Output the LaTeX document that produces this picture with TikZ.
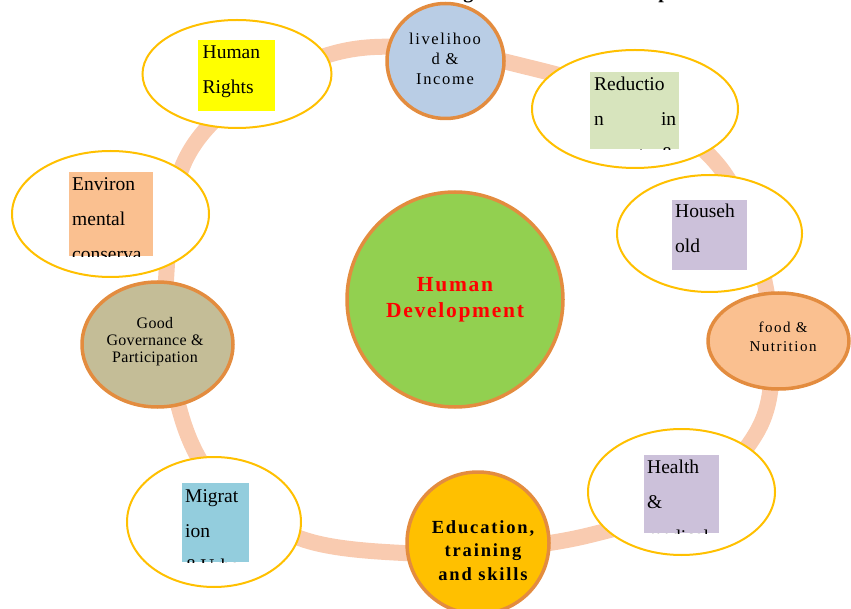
\documentclass[tikz,border=0pt]{standalone}
\usepackage{fontspec}
\setmainfont{Liberation Serif}
\newfontfamily\pixfont[LetterSpace=10]{Liberation Serif}
\newfontfamily\pixfontw[LetterSpace=8]{Liberation Serif}
\newfontfamily\pixfontn[LetterSpace=2]{Liberation Serif}
\usetikzlibrary{shapes.geometric}
\definecolor{ringc}{HTML}{F9CBB0}
\definecolor{orangeb}{HTML}{E38C3F}
\definecolor{yellowb}{HTML}{FFC000}
\definecolor{livef}{HTML}{B9CDE5}
\definecolor{foodf}{HTML}{FAC090}
\definecolor{eduf}{HTML}{FFC000}
\definecolor{govf}{HTML}{C4BD97}
\definecolor{centf}{HTML}{92D050}
\definecolor{redbox}{HTML}{D7E4BD}
\definecolor{purbox}{HTML}{CCC1DA}
\definecolor{migbox}{HTML}{93CDDD}
\definecolor{envbox}{HTML}{FAC090}
\definecolor{hrbox}{HTML}{FFFF00}
\tikzset{
  ybell/.style={ellipse, draw=yellowb, line width=2pt, fill=white, inner sep=0pt},
  obell/.style={ellipse, draw=orangeb, line width=3.5pt, inner sep=0pt},
  tbox/.style={rectangle, inner sep=0pt, draw=none},
  boxtext/.style={anchor=base west, inner sep=0pt, font=\fontsize{19.5}{35}\selectfont},
  pixtext/.style={anchor=base, inner sep=0pt},
  ringline/.style={draw=ringc, line width=16pt},
  titletext/.style={anchor=base west, inner sep=0pt, font=\bfseries\fontsize{20}{24}\selectfont}
}
\begin{document}
\begin{tikzpicture}[x=1pt,y=-1pt]
\useasboundingbox (0,0) rectangle (851,609);
\clip (0,0) rectangle (851,609);
% title (mostly cut off above the picture)
\node[titletext] (title) at (411,-1) {Strategies for Human Development};
% ring
\draw[ringline] plot[smooth cycle, tension=0.6] coordinates {
 (335,53) (420,48) (515,64) (630,100) (718,165) (758,255) (772,350) (758,430)
 (690,500) (590,535) (490,550) (403,553) (305,540) (232,498) (192,445)
 (170,365) (166,280) (183,165) (245,95)};
% central circle
\node[obell, fill=centf, minimum width=216pt, minimum height=215pt] (center) at (455,299.5) {};
\node[pixtext] (centertxt) at (455,292) {\pixfontw\bfseries\color{red}\fontsize{21.5}{26}\selectfont
  \begin{tabular}[t]{@{}c@{}}Human\\ Development\end{tabular}};
% livelihood
\node[obell, fill=livef, minimum width=117pt, minimum height=115pt] (live) at (445.5,61) {};
\node[pixtext] (livetxt) at (445,45) {\pixfont\fontsize{16.5}{20}\selectfont
  \begin{tabular}[t]{@{}c@{}}livelihoo\\ d \&\\ Income\end{tabular}};
% food
\node[obell, fill=foodf, minimum width=141pt, minimum height=96pt] (food) at (778.5,341) {};
\node[pixtext] (foodtxt) at (783,333) {\pixfont\fontsize{15}{19}\selectfont
  \begin{tabular}[t]{@{}c@{}}food \&\\ Nutrition\end{tabular}};
% education
\node[obell, fill=eduf, minimum width=142pt, minimum height=142pt] (edu) at (478,543) {};
\node[pixtext] (edutxt) at (483,533) {\pixfont\bfseries\fontsize{18.5}{23.5}\selectfont
  \begin{tabular}[t]{@{}c@{}}Education,\\ training\\ and skills\end{tabular}};
% governance
\node[obell, fill=govf, minimum width=151pt, minimum height=125pt] (gov) at (157.5,344.5) {};
\node[pixtext] (govtxt) at (155,329) {\pixfontn\fontsize{16}{17}\selectfont
  \begin{tabular}[t]{@{}c@{}}Good\\ Governance \&\\ Participation\end{tabular}};
% yellow ellipses with boxes
\node[ybell, minimum width=189pt, minimum height=108pt] (hr) at (237,74) {};
\node[tbox, fill=hrbox, minimum width=77pt, minimum height=71pt] (hrb) at (236.5,75.5) {};
\begin{scope}
\clip (hrb.south west) rectangle (hrb.north east);
\node[boxtext] (hrt) at (202.5,59) {\begin{tabular}[t]{@{}l@{}}Human\\ Rights\end{tabular}};
\end{scope}
\node[ybell, minimum width=206pt, minimum height=118pt] (red) at (635,109) {};
\node[tbox, fill=redbox, minimum width=89pt, minimum height=77pt] (redb) at (634.5,110.5) {};
\begin{scope}
\clip (redb.south west) rectangle (redb.north east);
\node[boxtext] (redt) at (594,91) {\begin{tabular}[t]{@{}l@{}}Reductio\\ \makebox[82pt][l]{n\hfill in}\\ \makebox[82pt][l]{poverty\hfill\&}\end{tabular}};
\end{scope}
\node[ybell, minimum width=185pt, minimum height=117pt] (house) at (709.5,233.5) {};
\node[tbox, fill=purbox, minimum width=75pt, minimum height=70pt] (houseb) at (709.5,235) {};
\begin{scope}
\clip (houseb.south west) rectangle (houseb.north east);
\node[boxtext] (houset) at (675,218) {\begin{tabular}[t]{@{}l@{}}Househ\\ old\end{tabular}};
\end{scope}
\node[ybell, minimum width=187pt, minimum height=126pt] (health) at (681.5,492) {};
\node[tbox, fill=purbox, minimum width=75pt, minimum height=78pt] (healthb) at (681.5,494) {};
\begin{scope}
\clip (healthb.south west) rectangle (healthb.north east);
\node[boxtext] (healtht) at (647,473) {\begin{tabular}[t]{@{}l@{}}Health\\ \&\\ medical\end{tabular}};
\end{scope}
\node[ybell, minimum width=174pt, minimum height=130pt] (mig) at (214,522) {};
\node[tbox, fill=migbox, minimum width=67pt, minimum height=79pt] (migb) at (215.5,522.5) {};
\begin{scope}
\clip (migb.south west) rectangle (migb.north east);
\node[boxtext] (migt) at (185,502) {\begin{tabular}[t]{@{}l@{}}Migrat\\ ion\\ \&Urba\end{tabular}};
\end{scope}
\node[ybell, minimum width=197pt, minimum height=126pt] (env) at (110.5,214) {};
\node[tbox, fill=envbox, minimum width=84pt, minimum height=84pt] (envb) at (111,214) {};
\begin{scope}
\clip (envb.south west) rectangle (envb.north east);
\node[boxtext] (envt) at (72,191) {\begin{tabular}[t]{@{}l@{}}Environ\\ mental\\ conserva\end{tabular}};
\end{scope}
\end{tikzpicture}
\end{document}
